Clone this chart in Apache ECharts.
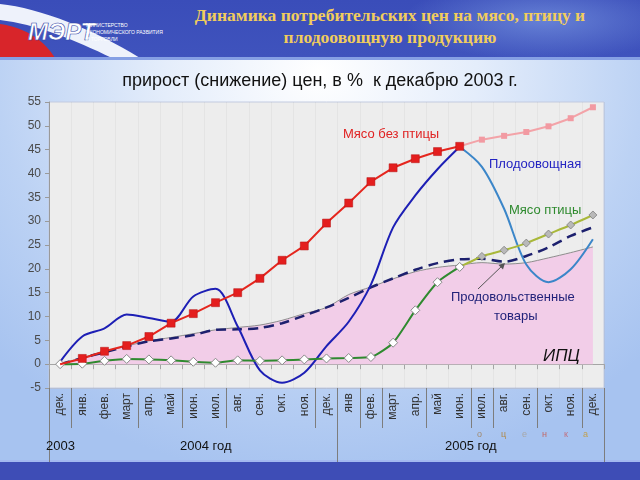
<!DOCTYPE html>
<html><head><meta charset="utf-8">
<script src="https://cdn.jsdelivr.net/npm/echarts@6/dist/echarts.min.js"></script>
<style>
html,body{margin:0;padding:0;width:640px;height:480px;overflow:hidden;}
body{position:relative;background:radial-gradient(ellipse 70% 85% at 50% 15%, #ffffff 0%, #e4edfb 35%, #bcd2f4 72%, #a7c3f0 100%);font-family:"Liberation Sans",Arial,sans-serif;}
#hdr{position:absolute;left:0;top:0;width:640px;height:57px;background:radial-gradient(ellipse 22% 70% at 85% 35%, rgba(120,150,225,0.7) 0%, rgba(120,150,225,0) 100%),linear-gradient(180deg,#3a4db9 0%,#3f53bd 100%);}
#hdrline{position:absolute;left:0;top:57px;width:640px;height:3px;background:#86a0e4;}
#title{position:absolute;left:150px;width:480px;top:4px;text-align:center;color:#f1cd5c;font:bold 17.5px "Liberation Serif","DejaVu Serif",serif;line-height:22px;}
#logo{position:absolute;left:0;top:0;}
#chart{position:absolute;left:0;top:0;width:640px;height:480px;}
#foot{position:absolute;left:0;top:460px;width:640px;height:20px;background:#3e4db6;border-top:2px solid #a3b8f0;box-sizing:border-box;}
</style>
</head><body>
<div id="hdr"></div>
<svg id="logo" width="200" height="58">
  <path d="M0,4 C40,8 95,30 140,58 L112,58 C75,40 35,24 0,20 Z" fill="#eef2fb"/>
  <path d="M0,24 C28,28 45,42 55,58 L0,58 Z" fill="#d8252a"/>
  <text x="28" y="40" fill="#ffffff" stroke="#2f44a8" stroke-width="0.6" font-family="Liberation Sans" font-style="italic" font-weight="bold" font-size="24">МЭРТ</text>
  <text x="86" y="27" fill="#ffffff" font-family="Liberation Sans" font-size="5">МИНИСТЕРСТВО</text>
  <text x="86" y="34" fill="#ffffff" font-family="Liberation Sans" font-size="5">ЭКОНОМИЧЕСКОГО РАЗВИТИЯ</text>
  <text x="86" y="41" fill="#ffffff" font-family="Liberation Sans" font-size="5">И ТОРГОВЛИ</text>
</svg>
<div id="hdrline"></div>
<div id="title">Динамика потребительских цен на мясо, птицу и<br>плодоовощную продукцию</div>
<div id="foot"></div>
<div id="chart"></div>
<script>
const categories = ['дек.','янв.','фев.','март','апр.','май','июн.','июл.','авг.','сен.','окт.','ноя.','дек.','янв','фев.','март','апр.','май','июн.','июл.','авг.','сен.','окт.','ноя.','дек.'];
const yTicks = {min: -5, max: 55, step: 5};
// ИПЦ (area)
const cpi = [0,1.4,2.6,3.8,4.9,5.6,6.4,7.2,7.7,8.2,9.2,10.6,11.9,14.6,16.2,17.9,19.4,20.3,20.8,21.3,21.0,21.3,22.3,23.4,24.6];
// Продовольственные товары (dashed)
const foodGoods = [0,1.3,2.5,3.7,4.8,5.4,6.1,7.2,7.3,7.6,8.6,10.2,11.9,13.9,16.1,18.0,19.8,21.2,22.0,22.1,21.5,22.7,24.5,26.9,28.7];
// Мясо без птицы: fact (дек.2003 - июн.2005), estimate (июн.2005 - дек.2005)
const meatFact = [0,1.2,2.7,3.9,5.8,8.6,10.6,12.9,15.0,18.0,21.8,24.8,29.6,33.8,38.3,41.2,43.1,44.6,45.7];
const meatEst = [45.7,47.1,47.9,48.7,49.9,51.6,53.9];
// Плодоовощная
const vegFact = [0.5,5.8,7.5,10.4,9.7,8.9,14.2,15.8,7.9,-1.3,-3.9,-1.8,3.8,8.9,16.7,28.7,35.4,40.9,45.6];
const vegEst = [45.6,41.4,32.6,20.9,17.2,19.9,26.2];
// Мясо птицы
const poultryFact = [0,0.1,0.7,1.1,1.0,0.8,0.5,0.3,0.8,0.7,0.8,1.0,1.2,1.3,1.5,4.5,11.3,17.2,20.4];
const poultryEst = [20.4,22.6,23.9,25.4,27.3,29.2,31.3];
const estStart = 18;
const sepTicks = [1,4,6,8,12,14,15,17,19,20,22,24];
const yearSepTicks = [0,13];

function asEst(arr){ const out = categories.map(() => null); arr.forEach((v,i) => { out[estStart+i] = v; }); return out; }

const chart = echarts.init(document.getElementById('chart'), null, {renderer:'canvas'});
const FF = '"Liberation Sans", Arial, sans-serif';
const option = {
  animation: false,
  backgroundColor: 'transparent',
  textStyle: {fontFamily: FF},
  grid: {left: 49, right: 36, top: 102, bottom: 92, show: true, backgroundColor: '#ededed', borderColor: '#c3cbe0', borderWidth: 1},
  xAxis: [
    {type:'category', data: categories, boundaryGap: true, position:'bottom',
     axisLine:{onZero:false, lineStyle:{color:'#b5bfd6'}},
     axisTick:{show:true, length:40, interval:(i)=>sepTicks.includes(i), lineStyle:{color:'#7d7d7d'}},
     axisLabel:{rotate:90, interval:0, fontSize:12, color:'#333', margin:5, fontFamily:FF},
     splitLine:{show:true, interval:0, lineStyle:{color:'rgba(0,0,0,0.035)'}}},
    {type:'category', data: categories, boundaryGap: true, position:'bottom',
     axisLine:{show:false, onZero:false},
     axisTick:{show:true, length:74, interval:(i)=>yearSepTicks.includes(i), lineStyle:{color:'#7d7d7d'}},
     axisLabel:{show:false}, splitLine:{show:false}},
    {type:'category', data: categories, boundaryGap: true, position:'bottom',
     axisLine:{show:true, onZero:true, lineStyle:{color:'#a5a5a5', width:1}},
     axisTick:{show:true, length:5, interval:0, lineStyle:{color:'#a5a5a5'}},
     axisLabel:{show:false}, splitLine:{show:false}}
  ],
  yAxis: {type:'value', min: yTicks.min, max: yTicks.max, interval: yTicks.step,
    axisLine:{show:true, lineStyle:{color:'#9a9a9a'}},
    axisTick:{show:true, length:4, lineStyle:{color:'#9a9a9a'}},
    axisLabel:{fontSize:12, color:'#4a4a4a', margin:8, fontFamily:FF},
    splitLine:{show:false}},
  series: [
    {name:'ИПЦ', type:'line', data: cpi, smooth:0.3, symbol:'none', z:1,
     lineStyle:{color:'#8d8d8d', width:1}, areaStyle:{color:'#f2cde8', opacity:1}},
    {name:'Продовольственные товары', type:'line', data: foodGoods, smooth:0.3, symbol:'none', z:2,
     lineStyle:{color:'#1d206e', width:2.5, type:[10,6]}},
    {name:'Плодоовощная оценка', type:'line', data: asEst(vegEst), smooth:0.3, symbol:'none', z:3,
     lineStyle:{color:'#3b86c9', width:2}},
    {name:'Плодоовощная', type:'line', data: vegFact, smooth:0.3, symbol:'none', z:3,
     lineStyle:{color:'#1d1fb5', width:2}},
    {name:'Мясо птицы оценка', type:'line', data: asEst(poultryEst), smooth:0.2, symbol:'diamond', symbolSize:8, showAllSymbol:true, z:4,
     lineStyle:{color:'#a9b83a', width:2}, itemStyle:{color:'#b9b9b9', borderColor:'#7d7d7d', borderWidth:0.8}},
    {name:'Мясо птицы', type:'line', data: poultryFact, smooth:0.2, symbol:'diamond', symbolSize:9, showAllSymbol:true, z:4,
     lineStyle:{color:'#2f8a2f', width:2}, itemStyle:{color:'#ffffff', borderColor:'#8a8a8a', borderWidth:1}},
    {name:'Мясо без птицы оценка', type:'line', data: asEst(meatEst), symbol:'rect', symbolSize:6, showAllSymbol:true, z:5,
     lineStyle:{color:'#f3a3a8', width:2}, itemStyle:{color:'#f29aa2'}},
    {name:'Мясо без птицы', type:'line', data: meatFact.map((v,i)=> i===0 ? {value:v, symbol:'none'} : v), symbol:'rect', symbolSize:8, showAllSymbol:true, z:5,
     lineStyle:{color:'#e5261e', width:2}, itemStyle:{color:'#e41e1e', borderColor:'#b51010', borderWidth:0.5}}
  ],
  graphic: [
    {type:'text', left:'center', top:72, style:{text:'прирост (снижение) цен, в %  к декабрю 2003 г.', fill:'#111', font:'18px '+FF}, z:10},
    {type:'text', x:343, y:128, style:{text:'Мясо без птицы', fill:'#e02222', font:'13px '+FF}, z:10},
    {type:'text', x:489, y:158, style:{text:'Плодоовощная', fill:'#2424c2', font:'13px '+FF}, z:10},
    {type:'text', x:509, y:204, style:{text:'Мясо птицы', fill:'#2e8a2e', font:'13px '+FF}, z:10},
    {type:'text', x:451, y:291, style:{text:'Продовольственные', fill:'#23237a', font:'13px '+FF}, z:10},
    {type:'text', x:494, y:310, style:{text:'товары', fill:'#23237a', font:'13px '+FF}, z:10},
    {type:'text', x:543, y:348, style:{text:'ИПЦ', fill:'#111', font:'italic 17px '+FF}, z:10},
    {type:'line', shape:{x1:478, y1:289, x2:504, y2:264}, style:{stroke:'#555', lineWidth:1}, z:10},
    {type:'polygon', shape:{points:[[505,263],[503,269.5],[498.5,265]]}, style:{fill:'#555'}, z:10},
    {type:'text', x:46, y:440, style:{text:'2003', fill:'#111', font:'13px '+FF}, z:10},
    {type:'text', x:180, y:440, style:{text:'2004 год', fill:'#111', font:'13px '+FF}, z:10},
    {type:'text', x:445, y:440, style:{text:'2005 год', fill:'#111', font:'13px '+FF}, z:10},
    {type:'text', x:477, y:430, style:{text:'о', fill:'#a08a70', font:'9px '+FF}, z:10},
    {type:'text', x:501, y:430, style:{text:'ц', fill:'#b08a4a', font:'9px '+FF}, z:10},
    {type:'text', x:522, y:430, style:{text:'е', fill:'#a8a8a8', font:'9px '+FF}, z:10},
    {type:'text', x:542, y:430, style:{text:'н', fill:'#c06a6a', font:'9px '+FF}, z:10},
    {type:'text', x:564, y:430, style:{text:'к', fill:'#c07080', font:'9px '+FF}, z:10},
    {type:'text', x:583, y:430, style:{text:'а', fill:'#c0a050', font:'9px '+FF}, z:10}
  ]
};
chart.setOption(option);
</script>
</body></html>
